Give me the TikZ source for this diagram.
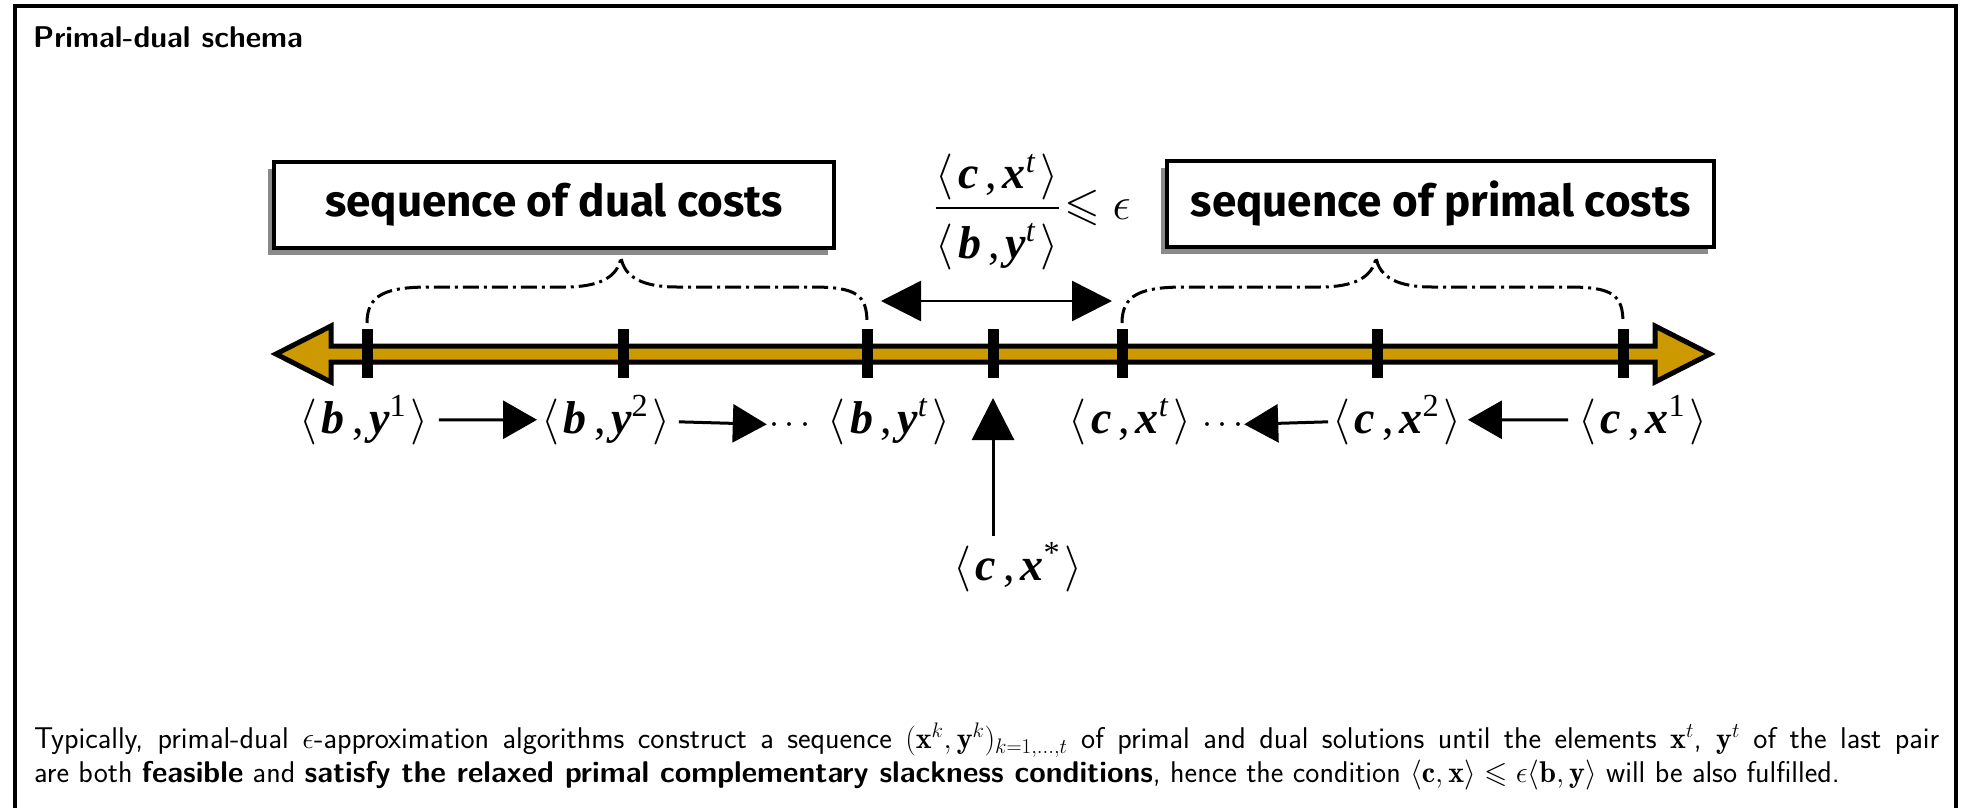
\RequirePackage{fix-cm}
\documentclass[tikz,border=0pt]{standalone}
\usepackage{amsmath}
\usepackage{amssymb}
\usepackage{fontspec}
\usepackage{tikz}
\usetikzlibrary{arrows.meta,shadows}
\RequirePackage{xcolor}
\definecolor{bgold}{HTML}{CC9900}
\definecolor{bshadow}{HTML}{8A8A8A}
\newfontfamily\tms{Liberation Serif}
\newfontfamily\comic{Fira Sans}
\newcommand{\costpair}[3]{\(\langle\)\kern.1em\textbf{\textit{#1}}\kern.16em,\kern.12em\textbf{\textit{#2}}\textsuperscript{#3}\kern.1em\(\rangle\)}

\begin{document}
\begin{tikzpicture}[x=1pt,y=-1pt,
	costlabel/.style={inner sep=0pt,anchor=base,font=\tms\fontsize{46}{46}\selectfont},
	seqbox/.style={draw,line width=3.5pt,fill=white,minimum height=86pt,inner sep=0pt,
		font=\comic\bfseries\fontsize{44}{44}\selectfont,
		drop shadow={shadow xshift=-6pt,shadow yshift=-7pt,fill=bshadow,opacity=1}},
	bigarr/.style={line width=3pt,-{Triangle[length=34pt,width=38pt]}},
	brace/.style={line width=3pt,dash pattern=on 16pt off 5pt on 3pt off 5pt}]
	\useasboundingbox (0,0) rectangle (1964,808);
	\draw[line width=4pt] (15,6.5) rectangle (1956,840);
	\node[anchor=base west,inner sep=0pt,font=\sffamily\bfseries\fontsize{30}{36}\selectfont] (title) at (33,48) {Primal-dual schema};

	% cost axis
	\draw[line width=5pt,fill=bgold] (276,354) -- (331,326) -- (331,346) -- (1655,346) -- (1655,326) -- (1710,354)
		-- (1655,382) -- (1655,362) -- (331,362) -- (331,382) -- cycle;
	\foreach \t/\x in {d1/367,d2/623,dt/867,opt/993,pt/1122,p2/1377,p1/1623}{
		\coordinate (\t) at (\x,354);
		\draw[line width=11pt] ([yshift=25pt]\t) -- ([yshift=-24pt]\t);
	}

	% boxes and braces
	\node[seqbox,minimum width=560pt] (dualbox) at (554,205) {sequence of dual costs};
	\node[seqbox,minimum width=547pt] (primalbox) at (1440.5,204) {sequence of primal costs};
	\draw[brace] (367,323) .. controls (367,295) and (385,287) .. (430,287) -- (565,287)
		.. controls (598,287) and (618,278) .. (621,257) .. controls (624,278) and (644,287) .. (677,287)
		-- (812,287) .. controls (857,287) and (867,295) .. (867,323);
	\draw[brace] (1122,323) .. controls (1122,295) and (1140,287) .. (1185,287) -- (1320,287)
		.. controls (1353,287) and (1373,278) .. (1376,257) .. controls (1379,278) and (1399,287) .. (1432,287)
		-- (1568,287) .. controls (1613,287) and (1623,295) .. (1623,323);

	% ratio
	\node[inner sep=0pt,font=\tms\fontsize{46}{46}\selectfont] (ratio) at (997,212)
		{\(\dfrac{\hbox{\costpair{c}{x}{\textit{t}}}}{\hbox{\rule{0pt}{0.95em}\costpair{b}{y}{\textit{t}}}}\)};
	\node[anchor=west,inner sep=0pt,font=\fontsize{46}{46}\selectfont] (bound) at ([xshift=4pt,yshift=4pt]ratio.east) {\(\leqslant\epsilon\)};
	\draw[line width=2.5pt,{Triangle[length=40pt,width=40pt]}-{Triangle[length=40pt,width=40pt]},
		shorten <=14pt,shorten >=10pt] ([yshift=53pt]dt) -- ([yshift=53pt]pt);

	% sequences
	\node[costlabel] (by1) at (364,433) {\costpair{b}{y}{1}};
	\node[costlabel] (by2) at (606,433) {\costpair{b}{y}{2}};
	\node[costlabel,font=\fontsize{36}{36}\selectfont] (dotsl) at (790,433) {\(\cdots\)};
	\node[costlabel] (byt) at (889,433) {\costpair{b}{y}{\textit{t}}};
	\node[costlabel] (cxt) at (1130,433) {\costpair{c}{x}{\textit{t}}};
	\node[costlabel,font=\fontsize{36}{36}\selectfont] (dotsr) at (1223,433) {\(\cdots\)};
	\node[costlabel] (cx2) at (1397,433) {\costpair{c}{x}{2}};
	\node[costlabel] (cx1) at (1643,433) {\costpair{c}{x}{1}};
	\node[costlabel] (cxs) at (1018,580) {\costpair{c}{x}{*}};
	\draw[bigarr,shorten <=10pt,shorten >=4pt] (by1) -- (by2);
	\draw[bigarr,shorten <=8pt,shorten >=2pt] (by2) -- (dotsl);
	\draw[bigarr,shorten <=10pt,shorten >=6pt] (cx1) -- (cx2);
	\draw[bigarr,shorten <=4pt,shorten >=0pt] (cx2) -- (dotsr);
	\draw[line width=3pt,-{Triangle[length=42pt,width=42pt]},shorten <=6pt,shorten >=44pt] (cxs.north -| opt) -- (opt);

	\node[anchor=north west,inner sep=0pt,text width=1905pt,align=justify,
		font=\sffamily\fontsize{30}{34}\selectfont] (caption) at (34,723)
		{Typically, primal-dual \(\epsilon\)-approximation algorithms construct a sequence
		\((\mathbf{x}^k,\mathbf{y}^k)_{k=1,\dots,t}\) of primal and dual solutions until the elements
		\(\mathbf{x}^t\), \(\mathbf{y}^t\) of the last pair\linebreak{} are both \textbf{feasible} and
		\textbf{satisfy the relaxed primal complementary slackness conditions}, hence the condition
		\(\langle\mathbf{c},\mathbf{x}\rangle\leqslant\epsilon\langle\mathbf{b},\mathbf{y}\rangle\) will be also fulfilled.};
\end{tikzpicture}
\end{document}
